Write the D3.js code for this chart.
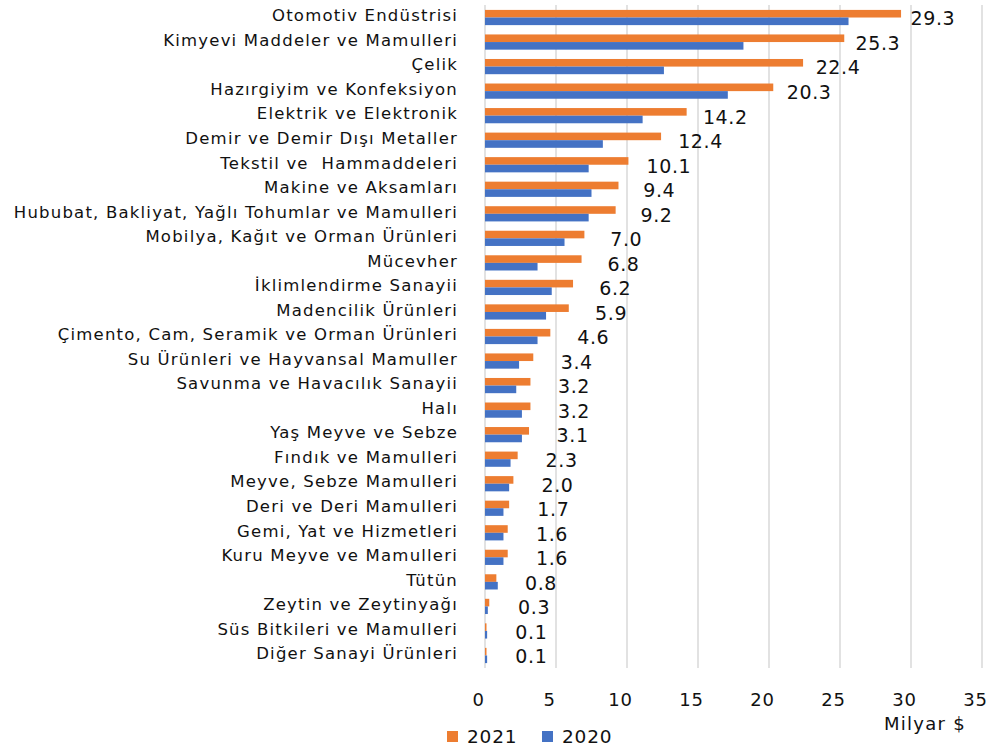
<!DOCTYPE html>
<html>
<head>
<meta charset="utf-8">
<script src="https://cdn.jsdelivr.net/npm/d3@7"></script>
<style>
  body { margin: 0; background: #fff; }
  svg { display: block; font-family: "DejaVu Sans", sans-serif; }
  text { white-space: pre; }
</style>
</head>
<body>
<svg id="chart"></svg>
<script>
'use strict';

const categories = [
  'Otomotiv Endüstrisi',
  'Kimyevi Maddeler ve Mamulleri',
  'Çelik',
  'Hazırgiyim ve Konfeksiyon',
  'Elektrik ve Elektronik',
  'Demir ve Demir Dışı Metaller',
  'Tekstil ve  Hammaddeleri',
  'Makine ve Aksamları',
  'Hububat, Bakliyat, Yağlı Tohumlar ve Mamulleri',
  'Mobilya, Kağıt ve Orman Ürünleri',
  'Mücevher',
  'İklimlendirme Sanayii',
  'Madencilik Ürünleri',
  'Çimento, Cam, Seramik ve Orman Ürünleri',
  'Su Ürünleri ve Hayvansal Mamuller',
  'Savunma ve Havacılık Sanayii',
  'Halı',
  'Yaş Meyve ve Sebze',
  'Fındık ve Mamulleri',
  'Meyve, Sebze Mamulleri',
  'Deri ve Deri Mamulleri',
  'Gemi, Yat ve Hizmetleri',
  'Kuru Meyve ve Mamulleri',
  'Tütün',
  'Zeytin ve Zeytinyağı',
  'Süs Bitkileri ve Mamulleri',
  'Diğer Sanayi Ürünleri'
];

const values2021 = [29.3, 25.3, 22.4, 20.3, 14.2, 12.4, 10.1, 9.4, 9.2, 7.0, 6.8, 6.2, 5.9, 4.6,
  3.4, 3.2, 3.2, 3.1, 2.3, 2.0, 1.7, 1.6, 1.6, 0.8, 0.3, 0.1, 0.1];

const values2020 = [25.6, 18.2, 12.6, 17.1, 11.1, 8.3, 7.3, 7.5, 7.3, 5.6, 3.7, 4.7, 4.3, 3.7,
  2.4, 2.2, 2.6, 2.6, 1.8, 1.7, 1.3, 1.3, 1.3, 0.9, 0.2, 0.15, 0.15];

const xTicks = [0, 5, 10, 15, 20, 25, 30, 35];
const seriesNames = ['2021', '2020'];
const seriesColors = ['#ED7D31', '#4472C4'];

const width = 993;
const height = 749;
const margin = { top: 5, right: 11, bottom: 81, left: 485 };

const svg = d3.select('#chart')
    .attr('width', width)
    .attr('height', height);

const x = d3.scaleLinear()
    .domain([0, 35])
    .range([margin.left, width - margin.right]);

const y = d3.scaleBand()
    .domain(categories)
    .range([margin.top, height - margin.bottom])
    .paddingInner(0.38)
    .paddingOuter(0.2);

const ySub = d3.scaleBand()
    .domain(seriesNames)
    .range([0, y.bandwidth()]);

// gridlines
svg.append('g')
    .selectAll('line')
    .data(xTicks)
    .enter().append('line')
    .attr('x1', (d) => x(d))
    .attr('x2', (d) => x(d))
    .attr('y1', margin.top)
    .attr('y2', height - margin.bottom)
    .attr('stroke', '#d9d9d9')
    .attr('stroke-width', 1.5);

// bars
const rows = categories.map((c, i) => ({ cat: c, v: [values2021[i], values2020[i]] }));
const group = svg.append('g')
    .selectAll('g')
    .data(rows)
    .enter().append('g')
    .attr('transform', (d) => 'translate(0,' + y(d.cat) + ')');

group.selectAll('rect')
    .data((d) => d.v.map((v, i) => ({ v: v, s: seriesNames[i], c: seriesColors[i] })))
    .enter().append('rect')
    .attr('x', x(0))
    .attr('y', (d) => ySub(d.s))
    .attr('width', (d) => Math.max(1.5, x(d.v) - x(0)))
    .attr('height', ySub.bandwidth())
    .attr('fill', (d) => d.c);

// value labels (2021), excel-ish placement past the bar end
group.append('text')
    .attr('x', (d) => x(d.v[0]) + 45 - 0.45 * d.v[0])
    .attr('y', y.bandwidth() / 2 + 1)
    .attr('dy', '0.36em')
    .style('text-anchor', 'middle')
    .style('font-size', '19px')
    .style('letter-spacing', '0.6px')
    .attr('fill', '#111')
    .text((d) => d.v[0].toFixed(1));

// category labels
svg.append('g')
    .selectAll('text')
    .data(categories)
    .enter().append('text')
    .attr('x', 458)
    .attr('y', (d) => y(d) + y.bandwidth() / 2 - 2)
    .attr('dy', '0.35em')
    .style('text-anchor', 'end')
    .style('font-size', '16.5px')
    .style('letter-spacing', '1.2px')
    .attr('fill', '#111')
    .text((d) => d);

// x axis
const xAxis = svg.append('g')
    .attr('transform', 'translate(0,' + (height - margin.bottom) + ')')
    .call(d3.axisBottom(x).tickValues(xTicks).tickSize(0).tickPadding(25));
xAxis.select('.domain').remove();
xAxis.selectAll('text')
    .attr('dx', -7)
    .style('font-size', '18px')
    .style('letter-spacing', '0.8px')
    .style('font-family', '"DejaVu Sans", sans-serif')
    .attr('fill', '#111');

svg.append('text')
    .attr('x', 925)
    .attr('y', 730)
    .style('text-anchor', 'middle')
    .style('font-size', '18px')
    .style('letter-spacing', '1.3px')
    .attr('fill', '#111')
    .text('Milyar $');

// legend
const legend = svg.append('g')
    .selectAll('g')
    .data(seriesNames)
    .enter().append('g')
    .attr('transform', (d, i) => 'translate(' + (447 + i * 95) + ',731)');
legend.append('rect')
    .attr('width', 11)
    .attr('height', 11)
    .attr('fill', (d, i) => seriesColors[i]);
legend.append('text')
    .attr('x', 20)
    .attr('y', 12)
    .style('font-size', '18.5px')
    .style('letter-spacing', '0.8px')
    .attr('fill', '#111')
    .text((d) => d);
</script>
</body>
</html>
